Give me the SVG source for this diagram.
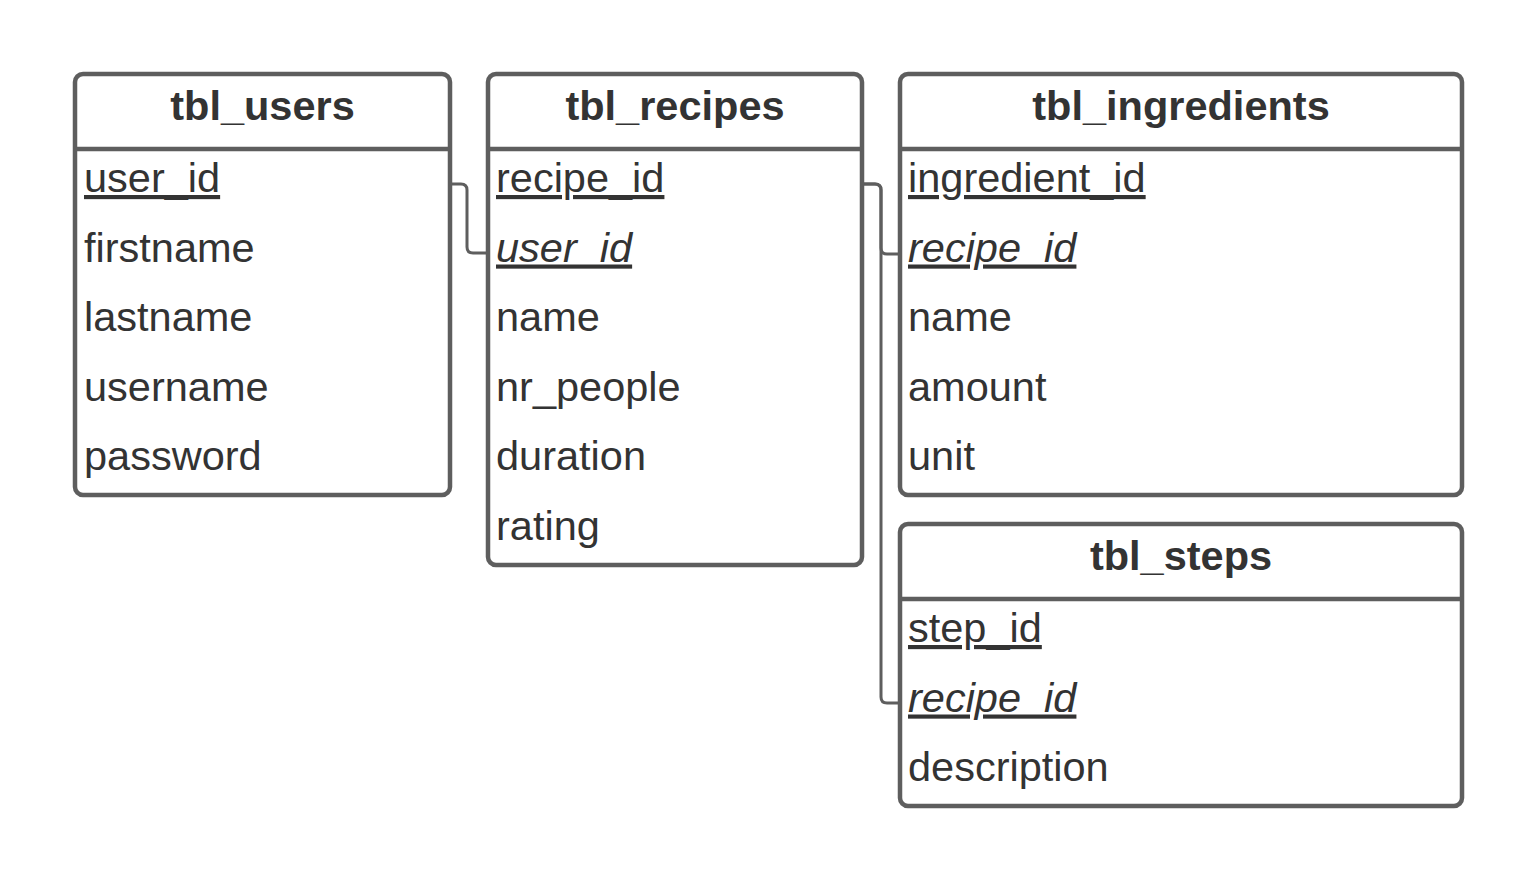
<svg xmlns="http://www.w3.org/2000/svg" width="1538" height="883" viewBox="0 0 1538 883">
<style>
.box{fill:#fff;stroke:#5e5e5e;stroke-width:4.5}
.div{stroke:#5e5e5e;stroke-width:4.5}
.t{font-family:"Liberation Sans",Arial,sans-serif;font-size:41.5px;fill:#333}
.h{font-weight:bold;text-anchor:middle}
.pk{text-decoration:underline}
.fk{text-decoration:underline;font-style:italic}
.c{fill:none;stroke:#5e5e5e;stroke-width:3}
</style>
<rect width="1538" height="883" fill="#fff"/>
<g id="connectors">
<path class="c" d="M450,184 H461 Q467,184 467,190 V247 Q467,253 473,253 H488"/>
<path class="c" d="M862,184 H875 Q881,184 881,190 V248 Q881,254 887,254 H900"/>
<path class="c" d="M862,184 H875 Q881,184 881,190 V697 Q881,703 887,703 H900"/>
</g>
<g id="tbl_users">
<rect class="box" x="75" y="74" width="375" height="421" rx="8"/>
<line class="div" x1="75" y1="149" x2="450" y2="149"/>
<text class="t h" x="262.5" y="120">tbl_users</text>
<text class="t pk" x="84" y="192">user_id</text>
<text class="t" x="84" y="261.5">firstname</text>
<text class="t" x="84" y="331">lastname</text>
<text class="t" x="84" y="400.5">username</text>
<text class="t" x="84" y="470">password</text>
</g>
<g id="tbl_recipes">
<rect class="box" x="488" y="74" width="374" height="491" rx="8"/>
<line class="div" x1="488" y1="149" x2="862" y2="149"/>
<text class="t h" x="675" y="120">tbl_recipes</text>
<text class="t pk" x="496" y="192">recipe_id</text>
<text class="t fk" x="496" y="261.5">user_id</text>
<text class="t" x="496" y="331">name</text>
<text class="t" x="496" y="400.5">nr_people</text>
<text class="t" x="496" y="470">duration</text>
<text class="t" x="496" y="539.5">rating</text>
</g>
<g id="tbl_ingredients">
<rect class="box" x="900" y="74" width="562" height="421" rx="8"/>
<line class="div" x1="900" y1="149" x2="1462" y2="149"/>
<text class="t h" x="1181" y="120">tbl_ingredients</text>
<text class="t pk" x="908" y="192">ingredient_id</text>
<text class="t fk" x="908" y="261.5">recipe_id</text>
<text class="t" x="908" y="331">name</text>
<text class="t" x="908" y="400.5">amount</text>
<text class="t" x="908" y="470">unit</text>
</g>
<g id="tbl_steps">
<rect class="box" x="900" y="524" width="562" height="282" rx="8"/>
<line class="div" x1="900" y1="599" x2="1462" y2="599"/>
<text class="t h" x="1181" y="570">tbl_steps</text>
<text class="t pk" x="908" y="642">step_id</text>
<text class="t fk" x="908" y="711.5">recipe_id</text>
<text class="t" x="908" y="781">description</text>
</g>
</svg>
